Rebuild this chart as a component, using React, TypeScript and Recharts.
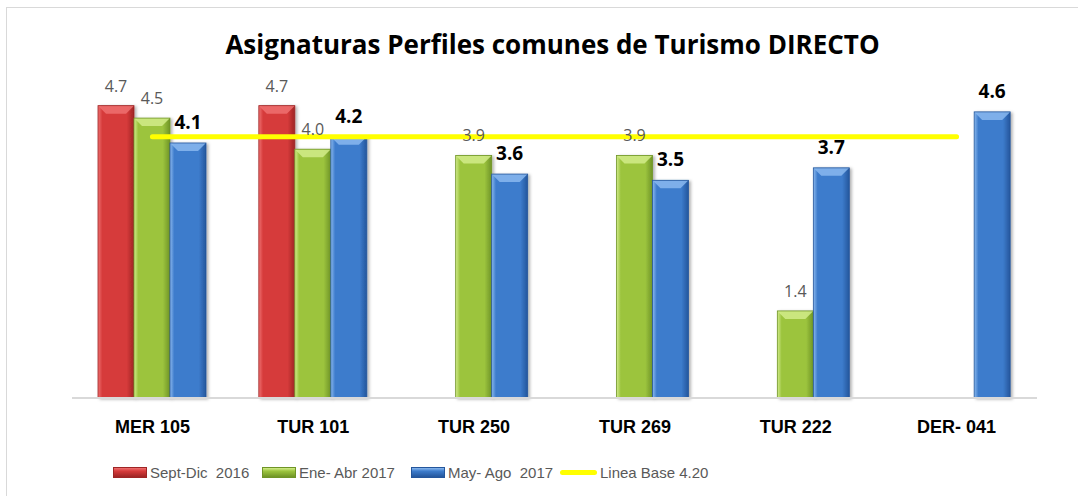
import React from "react";
import { ComposedChart, Bar, Line, XAxis, YAxis, Legend, LabelList } from "recharts";

const categories = ["MER 105", "TUR 101", "TUR 250", "TUR 269", "TUR 222", "DER- 041"];
const septDic2016 = [4.7, 4.7, null, null, null, null];
const eneAbr2017 = [4.5, 4.0, 3.9, 3.9, 1.4, null];
const mayAgo2017 = [4.1, 4.2, 3.6, 3.5, 3.7, 4.6];
const lineaBase = [4.2, 4.2, 4.2, 4.2, 4.2, 4.2];
const seriesNames = ["Sept-Dic  2016", "Ene- Abr 2017", "May- Ago  2017", "Linea Base 4.20"];

const data = categories.map((name, i) => ({
  name,
  sept: septDic2016[i],
  ene: eneAbr2017[i],
  may: mayAgo2017[i],
  base: lineaBase[i],
}));

const palette = {
  red: { main: "#d63a3a", light: "#ee7070", dark: "#9e2525" },
  green: { main: "#9cc43e", light: "#d2ec8a", dark: "#6f9426" },
  blue: { main: "#3d7ccc", light: "#8ab8ee", dark: "#24569c" },
};

const narrow = "'Liberation Sans Narrow', 'Liberation Sans', Arial, sans-serif";
const sans = "'Open Sans', 'Liberation Sans', sans-serif";

const bevel = (key: keyof typeof palette) => (props: any) => {
  const { x, y, width, height, value } = props;
  if (value == null || !height || height <= 0) return null;
  const c = palette[key];
  const b = Math.min(8, height / 2);
  return (
    <g filter="url(#barShadow)">
      <rect x={x} y={y} width={width} height={height} fill={`url(#grad-${key})`} />
      <polygon
        points={`${x},${y} ${x + width},${y} ${x + width - b},${y + b} ${x + b},${y + b}`}
        fill={c.light}
        opacity={0.85}
      />
      <rect x={x} y={y} width={width} height={height} fill="none" stroke={c.dark} strokeWidth={0.8} />
    </g>
  );
};

const grayLabel = (props: any) => {
  const { x, y, width, value } = props;
  if (value == null) return null;
  return (
    <text x={x + width / 2} y={y - 14} textAnchor="middle" fontFamily={sans} fontSize={16} fill="#595959">
      {Number(value).toFixed(1)}
    </text>
  );
};

const boldLabel = (props: any) => {
  const { x, y, width, value } = props;
  if (value == null) return null;
  return (
    <text x={x + width / 2} y={y - 14} textAnchor="middle" fontFamily={sans} fontWeight="bold" fontSize={19} fill="#000">
      {Number(value).toFixed(1)}
    </text>
  );
};

const CategoryTick = (props: any) => {
  const { x, y, payload } = props;
  return (
    <text x={x} y={y + 35} textAnchor="middle" fontFamily={narrow} fontWeight="bold" fontSize={18} fill="#000">
      {payload.value}
    </text>
  );
};

const swatchKeys: (keyof typeof palette)[] = ["red", "green", "blue"];

const LegendContent = () => (
  <div style={{ display: "flex", paddingLeft: 113, alignItems: "center", height: 20 }}>
    {seriesNames.map((name, i) => (
      <div key={name} style={{ width: 149, display: "flex", alignItems: "center" }}>
        {i < 3 ? (
          <span
            style={{
              display: "inline-block",
              width: 34,
              height: 11,
              background: `linear-gradient(180deg, ${palette[swatchKeys[i]].light} 0%, ${palette[swatchKeys[i]].main} 35%, ${palette[swatchKeys[i]].dark} 100%)`,
              border: `1px solid ${palette[swatchKeys[i]].dark}`,
              boxSizing: "border-box",
            }}
          />
        ) : (
          <span style={{ display: "inline-block", width: 37, height: 5, borderRadius: 3, background: "#ffff00" }} />
        )}
        <span
          style={{
            marginLeft: 3,
            fontFamily: narrow,
            fontSize: 15,
            color: "#595959",
            whiteSpace: "pre",
          }}
        >
          {name}
        </span>
      </div>
    ))}
  </div>
);

export default function App() {
  return (
    <div style={{ position: "absolute", left: 0, top: 0, width: 1078, height: 496, background: "#fff", overflow: "hidden" }}>
      <div
        style={{
          position: "absolute",
          left: 6,
          top: 7,
          width: 1100,
          height: 520,
          border: "1px solid #d9d9d9",
        }}
      />
      <div
        style={{
          position: "absolute",
          left: 0,
          top: 26,
          width: 1105,
          textAlign: "center",
          fontFamily: sans,
          fontWeight: "bold",
          fontSize: 26,
          color: "#000",
        }}
      >
        Asignaturas Perfiles comunes de Turismo DIRECTO
      </div>
      <div style={{ position: "absolute", left: 0, top: 0 }}>
        <ComposedChart
          width={1078}
          height={496}
          data={data}
          margin={{ top: 87, right: 41, left: 72, bottom: 68 }}
          barGap={0}
          barSize={36}
        >
          <defs>
            {swatchKeys.map((k) => (
              <linearGradient key={k} id={`grad-${k}`} x1="0" y1="0" x2="1" y2="0">
                <stop offset="0%" stopColor={palette[k].light} />
                <stop offset="12%" stopColor={palette[k].main} />
                <stop offset="80%" stopColor={palette[k].main} />
                <stop offset="100%" stopColor={palette[k].dark} />
              </linearGradient>
            ))}
            <filter id="barShadow" x="-20%" y="-10%" width="150%" height="130%">
              <feDropShadow dx="2" dy="1" stdDeviation="1.5" floodColor="#000" floodOpacity="0.3" />
            </filter>
          </defs>
          <XAxis
            dataKey="name"
            axisLine={{ stroke: "#d9d9d9", strokeWidth: 2 }}
            tickLine={false}
            tickSize={0}
            tickMargin={0}
            height={30}
            tick={<CategoryTick />}
            interval={0}
          />
          <YAxis hide domain={[0, 5]} />
          <Legend
            verticalAlign="middle"
            align="center"
            layout="horizontal"
            wrapperStyle={{ top: 462, left: 0, width: 1078 }}
            content={<LegendContent />}
          />
          <Bar dataKey="sept" name={seriesNames[0]} shape={bevel("red")} isAnimationActive={false}>
            <LabelList dataKey="sept" content={grayLabel} />
          </Bar>
          <Bar dataKey="ene" name={seriesNames[1]} shape={bevel("green")} isAnimationActive={false}>
            <LabelList dataKey="ene" content={grayLabel} />
          </Bar>
          <Bar dataKey="may" name={seriesNames[2]} shape={bevel("blue")} isAnimationActive={false}>
            <LabelList dataKey="may" content={boldLabel} />
          </Bar>
          <Line
            dataKey="base"
            name={seriesNames[3]}
            stroke="#ffff00"
            strokeWidth={5}
            strokeLinecap="round"
            dot={false}
            activeDot={false}
            isAnimationActive={false}
          />
        </ComposedChart>
      </div>
    </div>
  );
}
